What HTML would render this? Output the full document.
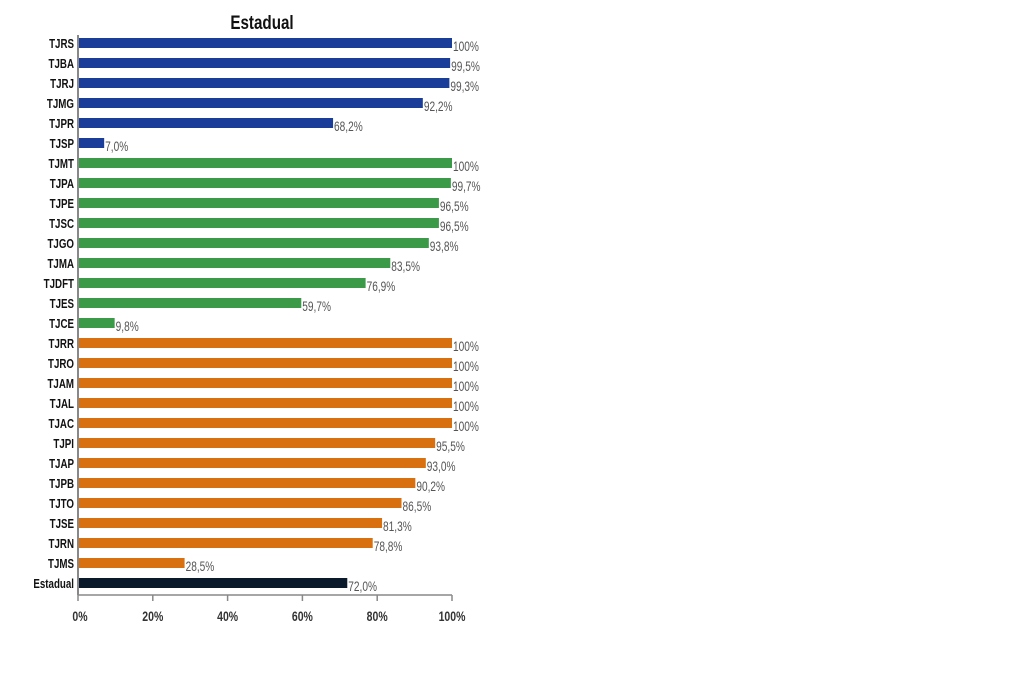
<!DOCTYPE html>
<html><head><meta charset="utf-8"><style>body{margin:0;background:#fff}svg{display:block}</style></head><body>
<svg width="1024" height="674" xmlns="http://www.w3.org/2000/svg" font-family="Liberation Sans, sans-serif">
<text x="262" y="29" font-size="19" font-weight="bold" text-anchor="middle" fill="#111" transform="translate(262,0) scale(0.8,1) translate(-262,0)">Estadual</text>
<g id="bars"></g>
<line x1="78" y1="35" x2="78" y2="595" stroke="#888" stroke-width="2"/>
<line x1="78" y1="595" x2="452" y2="595" stroke="#888" stroke-width="1.5"/>
<g stroke="#888" stroke-width="1.5">
<line x1="78" y1="595" x2="78" y2="601"/><line x1="152.8" y1="595" x2="152.8" y2="601"/><line x1="227.6" y1="595" x2="227.6" y2="601"/><line x1="302.4" y1="595" x2="302.4" y2="601"/><line x1="377.2" y1="595" x2="377.2" y2="601"/><line x1="452" y1="595" x2="452" y2="601"/>
</g>
<g font-size="14" font-weight="bold" fill="#333" text-anchor="middle" transform="scale(0.75,1)">
<text x="106.7" y="621">0%</text><text x="203.7" y="621">20%</text><text x="303.5" y="621">40%</text><text x="403.2" y="621">60%</text><text x="502.9" y="621">80%</text><text x="602.7" y="621">100%</text>
</g>
<g id="lab" transform="scale(0.75,1)" font-size="13" font-weight="bold" fill="#111" text-anchor="end"></g>
<g id="val" transform="scale(0.75,1)" font-size="13.5" fill="#555"></g>
</svg>
<script>
var d=[["TJRS",100,"100%",0],["TJBA",99.5,"99,5%",0],["TJRJ",99.3,"99,3%",0],["TJMG",92.2,"92,2%",0],["TJPR",68.2,"68,2%",0],["TJSP",7,"7,0%",0],
["TJMT",100,"100%",1],["TJPA",99.7,"99,7%",1],["TJPE",96.5,"96,5%",1],["TJSC",96.5,"96,5%",1],["TJGO",93.8,"93,8%",1],["TJMA",83.5,"83,5%",1],["TJDFT",76.9,"76,9%",1],["TJES",59.7,"59,7%",1],["TJCE",9.8,"9,8%",1],
["TJRR",100,"100%",2],["TJRO",100,"100%",2],["TJAM",100,"100%",2],["TJAL",100,"100%",2],["TJAC",100,"100%",2],["TJPI",95.5,"95,5%",2],["TJAP",93,"93,0%",2],["TJPB",90.2,"90,2%",2],["TJTO",86.5,"86,5%",2],["TJSE",81.3,"81,3%",2],["TJRN",78.8,"78,8%",2],["TJMS",28.5,"28,5%",2],["Estadual",72,"72,0%",3]];
var c=["#1a3d9a","#3a9a48","#d9700f","#0a1a2a"];
var b="",l="",v="";
d.forEach(function(r,i){var y=38+i*20,w=r[1]*3.74;
b+='<rect x="78" y="'+y+'" width="'+w+'" height="10" fill="'+c[r[3]]+'"/>';
l+='<text x="'+(74/0.75)+'" y="'+(y+10)+'">'+r[0]+'</text>';
v+='<text x="'+((79+w)/0.75)+'" y="'+(y+13)+'">'+r[2]+'</text>';});
document.getElementById("bars").innerHTML=b;document.getElementById("lab").innerHTML=l;document.getElementById("val").innerHTML=v;
</script>
</body></html>
